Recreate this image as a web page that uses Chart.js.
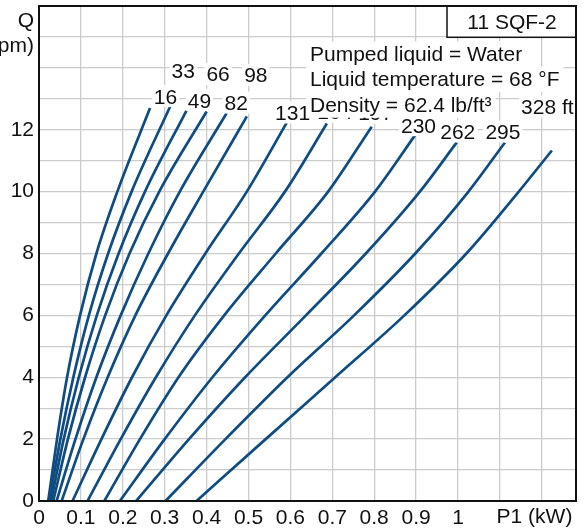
<!DOCTYPE html>
<html>
<head>
<meta charset="utf-8">
<script src="https://cdn.jsdelivr.net/npm/chart.js@4/dist/chart.umd.min.js"></script>
<style>
html,body{margin:0;padding:0;background:#fff;overflow:hidden}
#wrap{width:586px;height:529px;position:relative}
canvas{display:block}
</style>
</head>
<body>
<div id="wrap"><canvas id="c" width="586" height="529"></canvas></div>
<script>
// ---- data (P1 in kW at each flow Q in gpm) ----
const heads = [16, 33, 49, 66, 82, 98, 131, 164, 197, 230, 262, 295, 328];
const qSteps = [0, 2, 4, 6, 8, 10];
const p16  = [0.022, 0.043, 0.067, 0.098, 0.137, 0.187];
const p33  = [0.025, 0.051, 0.082, 0.119, 0.165, 0.221];
const p49  = [0.029, 0.059, 0.095, 0.138, 0.190, 0.253];
const p66  = [0.034, 0.069, 0.110, 0.158, 0.216, 0.287];
const p82  = [0.042, 0.087, 0.137, 0.195, 0.261, 0.336];
const p98  = [0.054, 0.106, 0.164, 0.230, 0.308, 0.392];
const p131 = [0.080, 0.149, 0.222, 0.304, 0.397, 0.496];
const p164 = [0.116, 0.195, 0.279, 0.372, 0.477, 0.587];
const p197 = [0.156, 0.241, 0.333, 0.442, 0.565, 0.690];
const p230 = [0.193, 0.300, 0.414, 0.540, 0.674, 0.802];
const p262 = [0.232, 0.358, 0.492, 0.637, 0.780, 0.909];
const p295 = [0.302, 0.445, 0.593, 0.752, 0.898, 1.025];
const p328 = [0.376, 0.541, 0.707, 0.872, 1.020, 1.145];
const qEnd = [12.70, 12.75, 12.62, 12.59, 12.54, 12.43, 12.22, 12.20, 12.10, 11.89, 11.59, 11.59, 11.33];
const pEnd = [0.265, 0.313, 0.352, 0.400, 0.448, 0.496, 0.591, 0.687, 0.794, 0.901, 0.997, 1.112, 1.224];
const xTickLabels = ['0','0.1','0.2','0.3','0.4','0.5','0.6','0.7','0.8','0.9','1'];
const yTickLabels = ['0','2','4','6','8','10','12'];
const infoLines = ['Pumped liquid = Water', 'Liquid temperature = 68 °F', 'Density = 62.4 lb/ft³'];
const titleText = '11 SQF-2';
const xTitle = 'P1 (kW)';
const yTitle = ['Q', '(gpm)'];

// ---- styles ----
const FONT = '"Liberation Sans", Arial, sans-serif';
const FS = 21;
const LINE = '#0f4c81';
const TXT = '#111';
const GRID = '#cccccc';
// label offsets (px) from each curve's end point
const labelOffsets = [[15.5,-12],[13,-36.5],[13,-10.5],[11.5,-37.5],[9.5,-10.5],[9,-41.5],[6,-10.5],[8,-12],[4,-14],[2,-8],[1,-11],[-2,-11],[-4.5,-44]];

const pCurves = [p16,p33,p49,p66,p82,p98,p131,p164,p197,p230,p262,p295,p328];
const datasets = heads.map((h, i) => {
  const pts = qSteps.map((q, j) => ({x: pCurves[i][j], y: q}));
  pts.push({x: pEnd[i], y: qEnd[i]});
  return {
    label: String(h), data: pts, showLine: true, borderColor: LINE, backgroundColor: LINE,
    borderWidth: 2.7, pointRadius: 0, cubicInterpolationMode: 'monotone', fill: false
  };
});

const overlay = {
  id: 'overlay',
  afterDatasetsDraw(chart) {
    const {ctx, scales: {x, y}} = chart;
    ctx.save();
    ctx.font = FS + 'px ' + FONT;
    ctx.textAlign = 'center';
    ctx.textBaseline = 'alphabetic';
    heads.forEach((h, i) => {
      const txt = i === heads.length - 1 ? h + ' ft' : String(h);
      const cx = x.getPixelForValue(pEnd[i]) + labelOffsets[i][0];
      const cy = y.getPixelForValue(qEnd[i]) + labelOffsets[i][1];
      const w = ctx.measureText(txt).width;
      ctx.fillStyle = '#fff';
      ctx.fillRect(cx - w / 2 - 2, cy - 11, w + 4, 22);
      ctx.fillStyle = TXT;
      ctx.fillText(txt, cx, cy + 7.5);
    });
    ctx.textAlign = 'left';
    const baselines = [61, 86, 111.7];
    infoLines.forEach((t, i) => {
      const w = ctx.measureText(t).width;
      ctx.fillStyle = '#fff';
      ctx.fillRect(306, baselines[i] - 19.5, w + 8, 25.5);
    });
    infoLines.forEach((t, i) => {
      ctx.fillStyle = TXT;
      ctx.fillText(t, 310, baselines[i]);
    });
    ctx.fillStyle = '#fff';
    ctx.fillRect(447, 6, 129, 31.3);
    ctx.strokeStyle = '#111';
    ctx.lineWidth = 1.5;
    ctx.strokeRect(447, 6, 129, 31.3);
    ctx.fillStyle = TXT;
    ctx.textAlign = 'center';
    ctx.fillText(titleText, 512, 29.3);
    ctx.restore();
  },
  afterDraw(chart) {
    const {ctx, chartArea: a} = chart;
    ctx.save();
    ctx.strokeStyle = '#111';
    ctx.lineWidth = 2;
    ctx.strokeRect(a.left, a.top, a.right - a.left, a.bottom - a.top);
    ctx.font = FS + 'px ' + FONT;
    ctx.fillStyle = TXT;
    ctx.textAlign = 'center';
    ctx.textBaseline = 'alphabetic';
    ctx.fillText(xTitle, 534.5, 523);
    ctx.textAlign = 'right';
    ctx.fillText(yTitle[0], 34, 27);
    ctx.fillText(yTitle[1], 34, 52);
    ctx.restore();
  }
};

function zeroPad(s) { s.paddingTop = 0; s.paddingBottom = 0; s.paddingLeft = 0; s.paddingRight = 0; }

new Chart(document.getElementById('c'), {
  type: 'scatter',
  data: {datasets},
  options: {
    responsive: false,
    animation: false,
    events: [],
    layout: {padding: {top: 6, right: 10, left: 0, bottom: 0}},
    plugins: {legend: {display: false}, tooltip: {enabled: false}},
    scales: {
      x: {
        type: 'linear', min: 0, max: 1.2816,
        grid: {color: GRID, lineWidth: 1.3, drawTicks: false},
        border: {display: false},
        ticks: {
          stepSize: 0.1, includeBounds: false, autoSkip: false, maxRotation: 0, padding: 5,
          color: TXT, font: {family: FONT, size: FS},
          callback: v => {
            const k = Math.round(v * 10);
            return k <= 10 ? xTickLabels[k] : '';
          }
        },
        afterFit: s => { s.height = 28; zeroPad(s); }
      },
      y: {
        type: 'linear', min: 0, max: 16,
        grid: {color: GRID, lineWidth: 1.3, drawTicks: false},
        border: {display: false},
        ticks: {
          stepSize: 1, autoSkip: false, padding: 5,
          color: TXT, font: {family: FONT, size: FS},
          callback: v => {
            const k = Math.round(v);
            return (k % 2 === 0 && k <= 12) ? yTickLabels[k / 2] : '';
          }
        },
        afterFit: s => { s.width = 39; zeroPad(s); }
      }
    }
  },
  plugins: [overlay]
});
</script>
</body>
</html>
